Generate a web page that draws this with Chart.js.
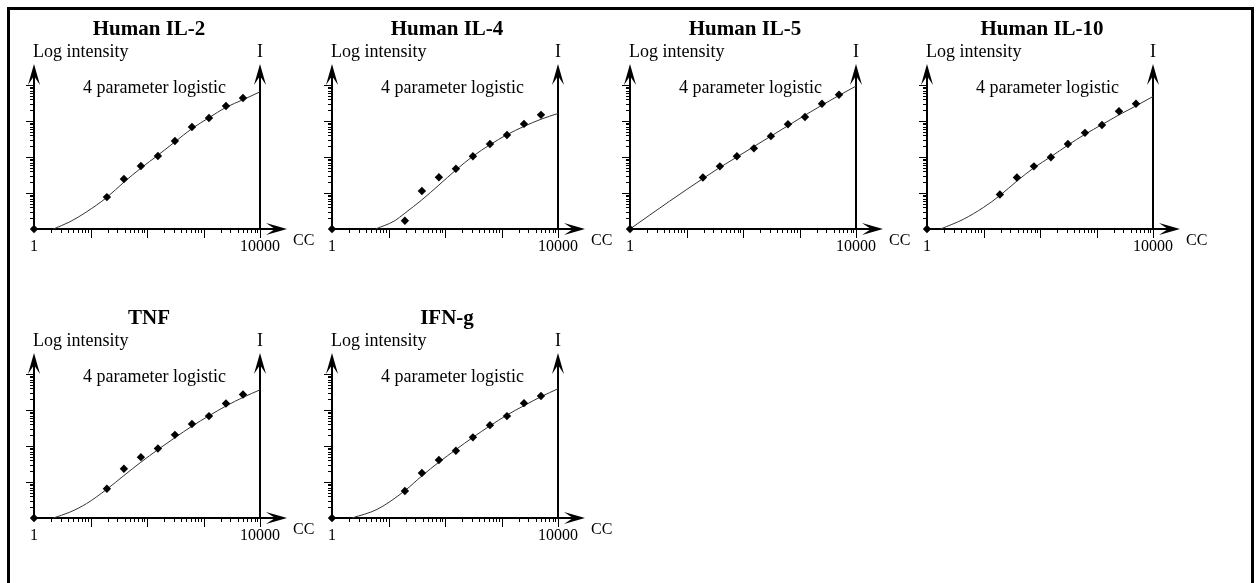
<!DOCTYPE html>
<html>
<head>
<meta charset="utf-8">
<script src="https://cdn.jsdelivr.net/npm/chart.js@4.4.1/dist/chart.umd.min.js"></script>
<style>
  html, body { margin: 0; padding: 0; background: #fff; }
  #wrap { position: relative; width: 1259px; height: 583px; overflow: hidden; }
  #frame { position: absolute; left: 7px; top: 7px; width: 1241px; height: 620px;
           border: 3px solid #000; border-bottom: none; }
  #wrap canvas { position: absolute; }
</style>
</head>
<body>
<div id="wrap"><div id="frame"></div></div>
<script>
// standards: blank (drawn at the axis origin) plus 2-fold dilutions
const stdConc = [1, 19.5, 39, 78, 156, 312, 625, 1250, 2500, 5000];

const titles = ['Human IL-2', 'Human IL-4', 'Human IL-5', 'Human IL-10', 'TNF', 'IFN-g'];

// measured intensities of the standards
const il2Int  = [1, 7.7, 24.5, 56, 107, 278, 681, 1210, 2610, 4360];
const il4Int  = [1, 1.7, 11.4, 27.5, 47.3, 105, 229, 407, 832, 1480];
const il5Int  = [1, 26.9, 55, 105, 174, 380, 813, 1290, 3020, 5370];
const il10Int = [1, 9.1, 26.9, 55, 98, 229, 468, 776, 1860, 3020];
const tnfInt  = [1, 6.5, 23.4, 49, 85, 204, 407, 676, 1510, 2690];
const ifngInt = [1, 5.6, 17.8, 40.7, 74, 174, 380, 676, 1550, 2450];

// fitted 4PL curves (concentration / intensity pairs)
const il2CurveConc  = [2.2, 4.3, 8.6, 19.5, 39, 78, 156, 312, 625, 1250, 2500, 5000, 10000];
const il2CurveInt   = [1, 1.58, 3.02, 7.59, 20.0, 49.0, 112, 263, 617, 1230, 2400, 3890, 6460];
const il4CurveConc  = [5.9, 12.6, 19.5, 39, 78, 156, 312, 625, 1250, 2500, 5000, 10000];
const il4CurveInt   = [1, 1.66, 2.75, 6.46, 16.6, 43.7, 105, 219, 417, 708, 1120, 1620];
const il5CurveConc  = [1, 5, 19.5, 39, 78, 156, 312, 625, 1250, 2500, 5000, 10000];
const il5CurveInt   = [1, 5.9, 25.1, 51.3, 100, 195, 380, 741, 1450, 2750, 5130, 9330];
const il10CurveConc = [1.74, 4.4, 10, 19.5, 39, 78, 156, 312, 625, 1250, 2500, 5000, 10000];
const il10CurveInt  = [1, 1.86, 3.98, 8.51, 21.4, 50.1, 102, 214, 427, 794, 1480, 2630, 4790];
const tnfCurveConc  = [2.2, 4.3, 8.5, 19.5, 39, 78, 156, 312, 625, 1250, 2500, 5000, 10000];
const tnfCurveInt   = [1, 1.45, 2.51, 6.31, 15.1, 35.5, 79.4, 170, 355, 692, 1290, 2240, 3630];
const ifngCurveConc = [2.26, 6.3, 19.5, 39, 78, 156, 312, 625, 1250, 2500, 5000, 10000];
const ifngCurveInt  = [1, 1.74, 5.75, 14.8, 35.5, 79.4, 174, 363, 724, 1320, 2340, 3890];

// axis decades (both axes run 1 .. 10000) and the labelled x ticks
const decades = [1, 10, 100, 1000, 10000];
const xTickLabels = ['1', '10000'];

const yAxisLabel = 'Log intensity';
const rightAxisLabel = 'I';
const xAxisLabel = 'CC';
const fitLabel = '4 parameter logistic';

const panels = [
  { title: titles[0], pts: il2Int,  cx: il2CurveConc,  cy: il2CurveInt },
  { title: titles[1], pts: il4Int,  cx: il4CurveConc,  cy: il4CurveInt },
  { title: titles[2], pts: il5Int,  cx: il5CurveConc,  cy: il5CurveInt },
  { title: titles[3], pts: il10Int, cx: il10CurveConc, cy: il10CurveInt },
  { title: titles[4], pts: tnfInt,  cx: tnfCurveConc,  cy: tnfCurveInt },
  { title: titles[5], pts: ifngInt, cx: ifngCurveConc, cy: ifngCurveInt }
];

// axis origin of every panel on the page
const origins = [[34, 229], [332, 229], [630, 229], [927, 229], [34, 518], [332, 518]];

const SERIF = '"Liberation Serif", "Times New Roman", serif';

function arrowUp(ctx, x, tip) {
  ctx.beginPath();
  ctx.moveTo(x, tip);
  ctx.lineTo(x - 6, tip + 21);
  ctx.lineTo(x, tip + 12);
  ctx.lineTo(x + 6, tip + 21);
  ctx.closePath();
  ctx.fill();
}

function arrowRight(ctx, tip, y) {
  ctx.beginPath();
  ctx.moveTo(tip, y);
  ctx.lineTo(tip - 21, y - 6);
  ctx.lineTo(tip - 12, y);
  ctx.lineTo(tip - 21, y + 6);
  ctx.closePath();
  ctx.fill();
}

const arrowAxes = {
  id: 'arrowAxes',
  beforeDatasetsDraw(chart) {
    const { ctx, chartArea: a, scales: { x, y } } = chart;
    const ox = a.left, oy = a.bottom, rx = a.right;
    ctx.save();
    ctx.strokeStyle = '#000';
    ctx.fillStyle = '#000';

    // log ticks: y on the left of the axis, x below it
    ctx.lineWidth = 1;
    ctx.beginPath();
    decades.forEach((d, i) => {
      const py = Math.round(y.getPixelForValue(d)) + 0.5;
      if (i > 0) { ctx.moveTo(ox - 8, py); ctx.lineTo(ox, py); }
      const px = Math.round(x.getPixelForValue(d)) + 0.5;
      if (i > 0) { ctx.moveTo(px, oy); ctx.lineTo(px, oy + 9); }
      if (i < decades.length - 1) {
        for (let m = 2; m < 10; m++) {
          const v = d * m;
          const my = Math.round(y.getPixelForValue(v)) + 0.5;
          ctx.moveTo(ox - 4, my); ctx.lineTo(ox, my);
          const mx = Math.round(x.getPixelForValue(v)) + 0.5;
          ctx.moveTo(mx, oy); ctx.lineTo(mx, oy + 4);
        }
      }
    });
    ctx.stroke();

    // axis shafts
    const tipY = oy - 165;
    const tipX = ox + 253;
    ctx.lineWidth = 2;
    ctx.beginPath();
    ctx.moveTo(ox, oy); ctx.lineTo(ox, tipY + 4);
    ctx.moveTo(rx, oy); ctx.lineTo(rx, tipY + 4);
    ctx.moveTo(ox, oy); ctx.lineTo(tipX - 4, oy);
    ctx.stroke();
    arrowUp(ctx, ox, tipY);
    arrowUp(ctx, rx, tipY);
    arrowRight(ctx, tipX, oy);
    ctx.restore();
  },
  afterDraw(chart, args, opts) {
    const { ctx, chartArea: a } = chart;
    const ox = a.left, oy = a.bottom, rx = a.right;
    ctx.save();
    ctx.fillStyle = '#000';
    ctx.textBaseline = 'alphabetic';

    ctx.font = 'bold 21px ' + SERIF;
    ctx.textAlign = 'center';
    ctx.fillText(opts.title, ox + 115, oy - 194);

    ctx.font = '18px ' + SERIF;
    ctx.textAlign = 'left';
    ctx.fillText(yAxisLabel, ox - 1, oy - 172);
    ctx.fillText(fitLabel, ox + 49, oy - 136);
    ctx.textAlign = 'center';
    ctx.fillText(rightAxisLabel, rx, oy - 172);

    ctx.font = '16px ' + SERIF;
    ctx.fillText(xTickLabels[0], chart.scales.x.getPixelForValue(decades[0]), oy + 22);
    ctx.fillText(xTickLabels[1], chart.scales.x.getPixelForValue(decades[decades.length - 1]), oy + 22);
    ctx.textAlign = 'left';
    ctx.fillText(xAxisLabel, rx + 33, oy + 16);
    ctx.restore();
  }
};

const wrap = document.getElementById('wrap');
const CW = 330, CH = 290;

panels.forEach((p, i) => {
  const [ox, oy] = origins[i];
  const canvas = document.createElement('canvas');
  canvas.width = CW;
  canvas.height = CH;
  canvas.style.left = (ox - 30) + 'px';
  canvas.style.top = (oy - 230) + 'px';
  wrap.appendChild(canvas);

  new Chart(canvas.getContext('2d'), {
    type: 'scatter',
    data: {
      datasets: [
        {
          data: stdConc.map((c, k) => ({ x: c, y: p.pts[k] })),
          pointStyle: 'rectRot',
          pointRadius: 4.2,
          backgroundColor: '#000',
          borderColor: '#000',
          borderWidth: 0,
          clip: false
        },
        {
          data: p.cx.map((c, k) => ({ x: c, y: p.cy[k] })),
          showLine: true,
          pointRadius: 0,
          borderColor: '#333',
          borderWidth: 1,
          cubicInterpolationMode: 'monotone',
          clip: false
        }
      ]
    },
    options: {
      responsive: false,
      devicePixelRatio: 1,
      animation: false,
      layout: { padding: { left: 30, right: CW - 30 - 226, top: 86, bottom: CH - 230 } },
      scales: {
        x: { type: 'logarithmic', min: 1, max: 10000, display: false },
        y: { type: 'logarithmic', min: 1, max: 10000, display: false }
      },
      plugins: {
        legend: { display: false },
        tooltip: { enabled: false },
        arrowAxes: { title: p.title }
      }
    },
    plugins: [arrowAxes]
  });
});
</script>
</body>
</html>
